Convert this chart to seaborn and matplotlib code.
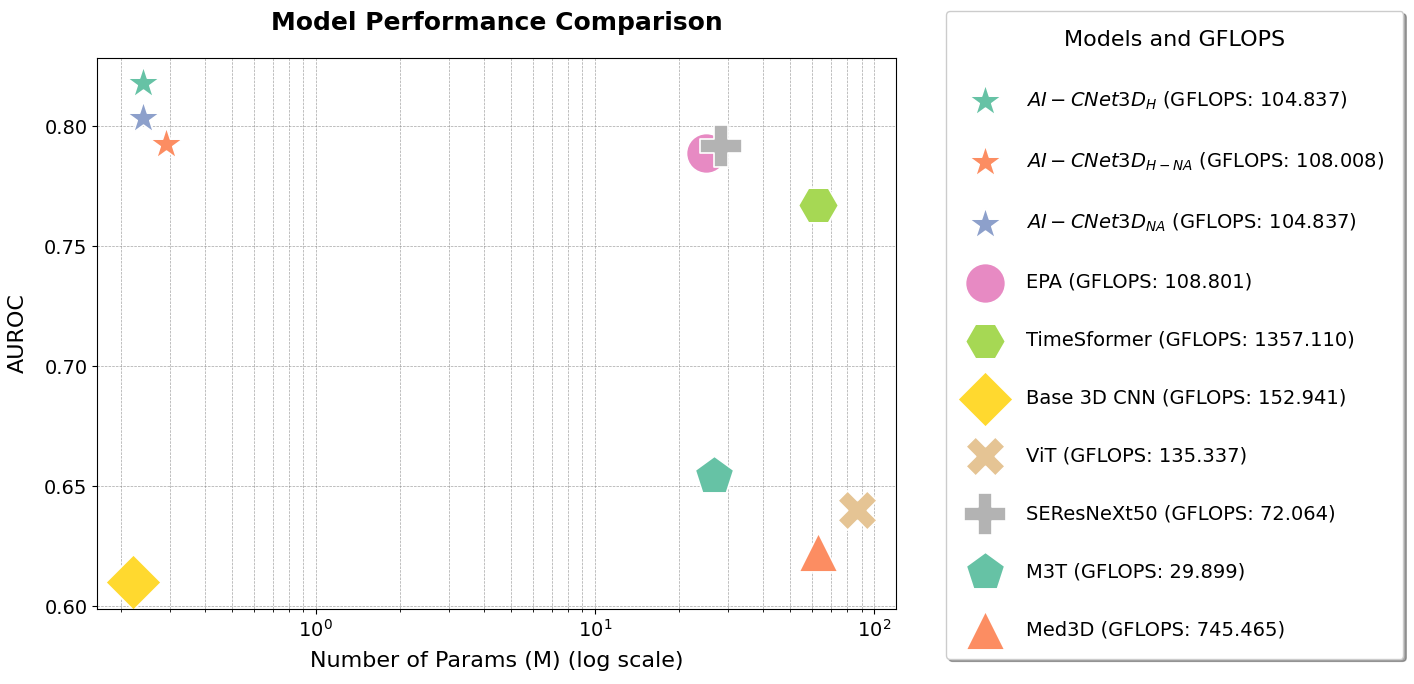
import matplotlib
matplotlib.use('Agg')

import matplotlib.pyplot as plt
import seaborn as sns

# data
models = [r"$AI-CNet3D_H$", r"$AI-CNet3D_{H-NA}$", r"$AI-CNet3D_{NA}$", "EPA",
          "TimeSformer", "Base 3D CNN", "ViT", "SEResNeXt50", "M3T", "Med3D"]
params_m = [0.241, 0.290, 0.241, 24.9, 63.0, 0.222, 87.0, 28.2, 26.6, 62.7]
auroc = [0.8179, 0.7926, 0.8033, 0.7889, 0.7670, 0.6101, 0.6399, 0.7918, 0.6543, 0.6227]
gflops = [104.837, 108.008, 104.837, 108.801, 1357.110, 152.941, 135.337, 72.064, 29.899, 745.465]

# styling
markers = ["*", "*", "*", "o", "H", "D", "X", "P", "p", "^"]
sizes = [620, 620, 620, 830, 830, 800, 800, 900, 850, 780]
palette = sns.color_palette("Set2", 8)

fig, ax = plt.subplots(figsize=(14.14, 6.84), dpi=100)
fig.subplots_adjust(left=0.0688, right=0.634, top=0.9148, bottom=0.110)

for i, name in enumerate(models):
    sns.scatterplot(x=[params_m[i]], y=[auroc[i]], ax=ax, marker=markers[i], s=sizes[i],
                    color=palette[i % 8], edgecolor="white", linewidth=1.2, alpha=1,
                    label=f"{name} (GFLOPS: {gflops[i]:.3f})")

ax.set_xscale("log")
ax.set_xlim(0.165, 120)
ax.set_ylim(0.5989, 0.8283)
ax.set_yticks([0.60, 0.65, 0.70, 0.75, 0.80])

ax.set_title("Model Performance Comparison", fontsize=18, fontweight="bold", pad=20)
ax.set_xlabel("Number of Params (M) (log scale)", fontsize=16, labelpad=8)
ax.set_ylabel("AUROC", fontsize=16, labelpad=12)
ax.tick_params(axis="both", labelsize=14)

ax.grid(True, which="both", linestyle="--", linewidth=0.5, color="gray", alpha=0.7)
ax.set_axisbelow(True)

handles, labels = ax.get_legend_handles_labels()
ax.legend(handles, labels, title="Models and GFLOPS", title_fontsize=16, fontsize=14,
          loc="upper left", bbox_to_anchor=(0.669, 0.984), bbox_transform=fig.transFigure,
          borderaxespad=0, labelspacing=2.0, handlelength=2.0, handletextpad=1.1,
          borderpad=1.0, shadow=True, fancybox=True, framealpha=1)

plt.savefig("out.png", dpi=100)
